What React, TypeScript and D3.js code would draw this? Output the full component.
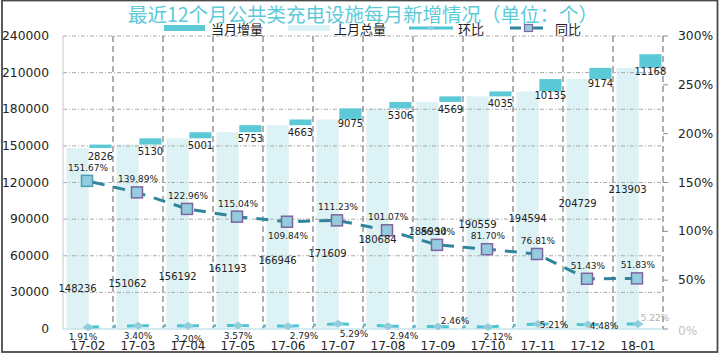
import React from 'react';
import * as d3 from 'd3';

const months = ['17-02', '17-03', '17-04', '17-05', '17-06', '17-07', '17-08', '17-09', '17-10', '17-11', '17-12', '18-01'];
const prevTotal = [148236, 151062, 156192, 161193, 166946, 171609, 180684, 185990, 190559, 194594, 204729, 213903];
const monthIncrease = [2826, 5130, 5001, 5753, 4663, 9075, 5306, 4569, 4035, 10135, 9174, 11168];
const momRate = [1.91, 3.40, 3.20, 3.57, 2.79, 5.29, 2.94, 2.46, 2.12, 5.21, 4.48, 5.22];
const yoyRate = [151.67, 139.89, 122.96, 115.04, 109.84, 111.23, 101.07, 86.14, 81.70, 76.81, 51.43, 51.83];
const leftTicks = [0, 30000, 60000, 90000, 120000, 150000, 180000, 210000, 240000];
const rightTicks = [0, 50, 100, 150, 200, 250, 300];
const momLabelPlace = ['belowL', 'below', 'below2', 'below', 'belowRight', 'belowRight', 'belowRight', 'aboveRight', 'belowRight2', 'right', 'right', 'aboveRight'];
const yoyLabelPlace = ['above', 'above', 'above', 'above', 'below', 'above', 'above', 'above', 'above', 'above', 'above', 'above'];

const W = 720, H = 357;
const M = { left: 63, right: 663, top: 36, bottom: 329 };
const NUM_FONT = '"DejaVu Sans", Verdana, sans-serif';
const CJK_FONT = '"Noto Sans CJK SC", sans-serif';

const C = {
  inc: '#5BC9D6',
  prev: '#DDF2F5',
  mom: '#4FC4D3',
  momMarker: '#92CDDC',
  yoy: '#2F869C',
  yoyFill: '#93CDDD',
  yoyStroke: '#8064A2',
  title: '#5CCAD8',
};

export default function App() {
  const x = d3.scaleBand<string>().domain(months).range([M.left, M.right]).padding(0);
  const sub = d3.scaleBand<string>().domain(['prev', 'inc']).range([3.5, 48.5]).paddingInner(0.03);
  const yL = d3.scaleLinear().domain([0, 240000]).range([M.bottom, M.top]);
  const yR = d3.scaleLinear().domain([0, 300]).range([M.bottom, M.top]);
  const bw = x.bandwidth();
  const cx = (m: string) => (x(m) as number) + bw / 2;

  const momLine = d3.line<number>().x((_, i) => cx(months[i])).y((d) => yR(d));
  const yoyLine = d3.line<number>().x((_, i) => cx(months[i]) - 1).y((d) => yR(d));

  // position of the label of the previous-month total (rises with the value)
  const prevLabelLevel = (v: number) => 33500 + (v - prevTotal[0]) * 1.23;

  const momOffset: Record<string, [number, number]> = {
    belowL: [-5, 10],
    below: [0, 10],
    below2: [0, 13],
    belowRight: [16, 10],
    belowRight2: [10, 10],
    right: [16, 1],
    aboveRight: [17, -6],
  };

  const boundaries = months.slice(1).map((m) => x(m) as number).concat([M.right]);

  return (
    <svg width={W} height={H} style={{ position: 'absolute', left: 0, top: 0, background: '#fff' }}>
      <rect x={0} y={0} width={W} height={H} fill="#fff" />
      {/* Title */}
      <text x={363} y={13} textAnchor="middle" dominantBaseline="central" fontFamily={CJK_FONT} fontSize={19.5} fill={C.title}>
        最近12个月公共类充电设施每月新增情况（单位：个）
      </text>

      {/* Legend */}
      <g fontFamily={CJK_FONT} fontSize={13} fill="#222">
        <rect x={164} y={25} width={41} height={6} fill={C.inc} />
        <text x={211} y={28} dominantBaseline="central">当月增量</text>
        <rect x={288} y={25} width={42} height={6} fill={C.prev} />
        <text x={334} y={28} dominantBaseline="central">上月总量</text>
        <line x1={409} x2={453} y1={28} y2={28} stroke={C.mom} strokeWidth={3} />
        <path d="M428,28 L431,25.5 L434,28 L431,30.5 Z" fill={C.momMarker} />
        <text x={458} y={28} dominantBaseline="central">环比</text>
        <line x1={510} x2={521} y1={28} y2={28} stroke={C.yoy} strokeWidth={3} />
        <line x1={533} x2={543} y1={28} y2={28} stroke={C.yoy} strokeWidth={3} />
        <rect x={524.5} y={24.5} width={8} height={7} fill={C.yoyFill} stroke={C.yoyStroke} strokeWidth={1.2} />
        <text x={555} y={28} dominantBaseline="central">同比</text>
      </g>

      {/* Light bars (previous month total) */}
      {months.map((m, i) => (
        <rect key={'p' + m} x={(x(m) as number) + (sub('prev') as number)} y={yL(prevTotal[i])}
          width={sub.bandwidth()} height={M.bottom - yL(prevTotal[i])} fill={C.prev} />
      ))}

      {/* Horizontal gridlines */}
      {leftTicks.filter((t) => t > 0).map((t) => (
        <line key={'h' + t} x1={M.left} x2={M.right} y1={yL(t)} y2={yL(t)} stroke="#A8A8A8" strokeWidth={1} strokeDasharray="4,2,1,2" />
      ))}
      {/* Vertical gridlines */}
      {boundaries.map((b, i) => (
        <line key={'v' + i} x1={b} x2={b} y1={M.top} y2={M.bottom} stroke="#7A7A7A" strokeWidth={1.2} strokeDasharray="6,4" />
      ))}
      {/* Left axis line */}
      <line x1={M.left} x2={M.left} y1={M.top} y2={M.bottom} stroke="#C8C8C8" strokeWidth={1} />
      {/* Bottom axis line */}
      <line x1={M.left} x2={M.right} y1={M.bottom} y2={M.bottom} stroke="#C6E4EC" strokeWidth={1.5} />
      {/* Right axis ticks */}
      {rightTicks.map((t) => (
        <line key={'rt' + t} x1={M.right} x2={M.right + 5} y1={yR(t)} y2={yR(t)} stroke="#8A8A8A" strokeWidth={1} />
      ))}

      {/* Dark bars (monthly increase), floating on top of previous total */}
      {months.map((m, i) => (
        <rect key={'i' + m} x={(x(m) as number) + (sub('inc') as number)} y={yL(prevTotal[i] + monthIncrease[i])}
          width={sub.bandwidth()} height={yL(prevTotal[i]) - yL(prevTotal[i] + monthIncrease[i])} fill={C.inc} />
      ))}

      {/* Axis labels */}
      <g fontFamily={NUM_FONT} fontSize={12.3} fill="#222">
        {leftTicks.map((t) => (
          <text key={'lt' + t} x={49} y={yL(t)} textAnchor="end" dominantBaseline="central">{t}</text>
        ))}
        {rightTicks.map((t) => (
          <text key={'rl' + t} x={678} y={yR(t) + (t === 0 ? 2 : 0)} dominantBaseline="central" fill={t === 0 ? '#C4C4C4' : '#222'}>{t}%</text>
        ))}
        {months.map((m) => (
          <text key={'xl' + m} x={cx(m)} y={346} textAnchor="middle" dominantBaseline="central" fontSize={12}>{m}</text>
        ))}
      </g>

      {/* MoM line */}
      <path d={momLine(momRate) || ''} fill="none" stroke={C.mom} strokeWidth={3} strokeDasharray="22,14,3,11" strokeDashoffset={11} />
      {momRate.map((v, i) => {
        const px = cx(months[i]);
        const py = yR(v);
        return <path key={'md' + i} d={`M${px - 5.5},${py} L${px},${py - 4} L${px + 5.5},${py} L${px},${py + 4} Z`} fill={C.momMarker} />;
      })}

      {/* YoY line */}
      <path d={yoyLine(yoyRate) || ''} fill="none" stroke={C.yoy} strokeWidth={3} strokeDasharray="12,9" strokeDashoffset={-6} />
      {yoyRate.map((v, i) => {
        const px = cx(months[i]) - 1;
        const py = yR(v);
        return <rect key={'ys' + i} x={px - 5.5} y={py - 5.5} width={11} height={11} fill={C.yoyFill}
          stroke={i === 0 ? '#4A9DB3' : C.yoyStroke} strokeWidth={1.5} />;
      })}

      {/* Data labels */}
      <g fontFamily={NUM_FONT} fill="#222">
        {months.map((m, i) => (
          <text key={'pl' + m} x={(x(m) as number) + (sub('prev') as number) + sub.bandwidth() / 2} y={yL(prevLabelLevel(prevTotal[i]))}
            textAnchor="middle" dominantBaseline="central" fontSize={10}>{prevTotal[i]}</text>
        ))}
        {months.map((m, i) => {
          const top = yL(prevTotal[i] + monthIncrease[i]);
          const bot = yL(prevTotal[i]);
          return (
            <text key={'il' + m} x={(x(m) as number) + (sub('inc') as number) + sub.bandwidth() / 2} y={(top + bot) / 2 + 10}
              textAnchor="middle" dominantBaseline="central" fontSize={10}>{monthIncrease[i]}</text>
          );
        })}
        {yoyRate.map((v, i) => (
          <text key={'yl' + i} x={cx(months[i])} y={yR(v) + (yoyLabelPlace[i] === 'above' ? -13 : 14)}
            textAnchor="middle" dominantBaseline="central" fontSize={9}>{v.toFixed(2)}%</text>
        ))}
        {momRate.map((v, i) => {
          const [dx, dy] = momOffset[momLabelPlace[i]];
          return (
            <text key={'ml' + i} x={cx(months[i]) + dx} y={yR(v) + dy} textAnchor="middle" dominantBaseline="central"
              fontSize={9} fill={i === momRate.length - 1 ? '#B0B0B0' : '#222'}>{v.toFixed(2)}%</text>
          );
        })}
      </g>

      {/* Frame */}
      <rect x={2} y={0.5} width={715.5} height={351.5} fill="none" stroke="#4A4A4A" strokeWidth={1.8} />
    </svg>
  );
}
